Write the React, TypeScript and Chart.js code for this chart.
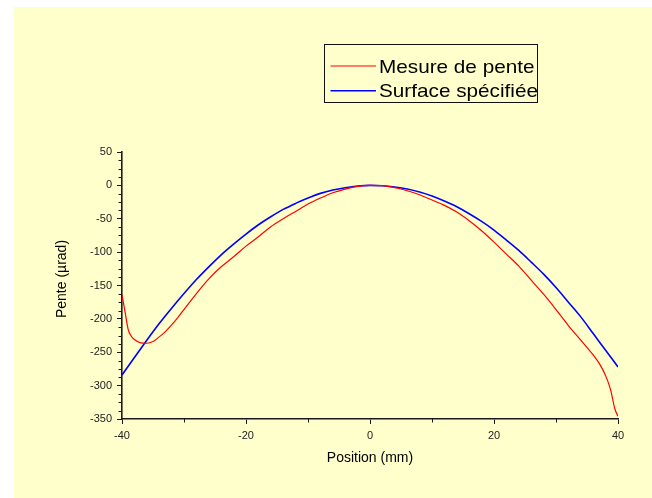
import { useEffect, useRef } from "react";
import { Chart, registerables } from "chart.js";

Chart.register(...registerables);

// Measured slope profile (position in mm, slope in µrad)
const positionsMesure = [
  -40, -39.5, -39, -38.5, -38, -37, -36, -35, -34, -33, -32, -31, -30, -28, -26, -24, -22, -20, -18, -16,
  -14, -12, -10, -8, -6, -4, -2, 0, 2, 4, 6, 8, 10, 12, 14, 16, 18, 20, 22, 24, 26, 28, 30, 32, 34, 36, 37,
  38, 38.8, 39.5, 40,
];
const penteMesure = [
  -164, -190, -216, -226, -231, -236, -236.5, -234, -227, -219, -209, -198, -186, -162, -140, -122, -107, -91,
  -77, -62, -50, -39, -28, -19, -11, -5.5, -1.5, 0, -0.5, -3.5, -8, -14, -22, -30, -40, -53, -68, -85, -103,
  -121, -142, -163, -186, -210, -232, -254, -267, -285, -306, -335, -346,
];

// Specified surface slope
const positionsSurface = [
  -40, -38, -36, -34, -32, -30, -28, -26, -24, -22, -20, -18, -16, -14, -12, -10, -8, -6, -4, -2, 0, 2, 4, 6,
  8, 10, 12, 14, 16, 18, 20, 22, 24, 26, 28, 30, 32, 34, 36, 38, 40,
];
const penteSurface = [
  -284, -258, -232, -207, -184, -162, -141, -122, -104, -88, -73, -59, -47, -36, -27, -19, -12, -7, -3.5, -1,
  0, -0.5, -2.5, -5.5, -10, -16, -23.5, -32, -42.5, -54, -67, -82, -97.5, -115, -133, -153, -175, -197, -222,
  -247, -272,
];

const seriesLabels = ["Mesure de pente", "Surface spécifiée"];
const xMajorTicks = [-40, -20, 0, 20, 40];
const yMajorTicks = [50, 0, -50, -100, -150, -200, -250, -300, -350];
const xTitle = "Position (mm)";
const yTitle = "Pente (µrad)";

const FONT = '"Liberation Sans", Arial, Helvetica, sans-serif';
const AXIS = "#1a1a1a";
const BG = "#FFFFCC";

// minor ticks: one between x majors, three between y majors
const xMinorTicks: number[] = [];
for (let i = 0; i < xMajorTicks.length - 1; i++) xMinorTicks.push((xMajorTicks[i] + xMajorTicks[i + 1]) / 2);
const yMinorTicks: number[] = [];
for (let i = 0; i < yMajorTicks.length - 1; i++) {
  const a = yMajorTicks[i];
  const b = yMajorTicks[i + 1];
  for (let k = 1; k < 4; k++) yMinorTicks.push(a + ((b - a) * k) / 4);
}

const decorations = {
  id: "decorations",
  afterDraw(chart: any) {
    const { ctx, chartArea: area, scales } = chart;
    const xs = scales.x;
    const ys = scales.y;
    ctx.save();

    // minor ticks
    ctx.strokeStyle = AXIS;
    ctx.lineWidth = 1;
    ctx.beginPath();
    for (const v of xMinorTicks) {
      const px = Math.round(xs.getPixelForValue(v)) + 0.5;
      ctx.moveTo(px, area.bottom);
      ctx.lineTo(px, area.bottom + 3.5);
    }
    for (const v of yMinorTicks) {
      const py = Math.round(ys.getPixelForValue(v)) + 0.5;
      ctx.moveTo(area.left, py);
      ctx.lineTo(area.left - 3.5, py);
    }
    ctx.stroke();

    // axis titles
    ctx.fillStyle = "#000";
    ctx.font = `14px ${FONT}`;
    ctx.textAlign = "center";
    ctx.textBaseline = "middle";
    ctx.fillText(xTitle, (area.left + area.right) / 2, area.bottom + 39);
    ctx.save();
    ctx.translate(area.left - 60, area.top + 127);
    ctx.rotate(-Math.PI / 2);
    ctx.fillText(yTitle, 0, 0);
    ctx.restore();

    // legend box
    const boxX = 310.5;
    const boxY = 37.5;
    const boxW = 213;
    const boxH = 58;
    ctx.strokeStyle = "#111";
    ctx.lineWidth = 1;
    ctx.strokeRect(boxX, boxY, boxW, boxH);
    ctx.font = `18.5px ${FONT}`;
    ctx.textAlign = "left";
    ctx.textBaseline = "alphabetic";
    chart.data.datasets.forEach((ds: any, i: number) => {
      const cy = 59 + i * 24.7;
      ctx.strokeStyle = ds.borderColor;
      ctx.lineWidth = ds.borderWidth;
      ctx.beginPath();
      ctx.moveTo(316.5, cy);
      ctx.lineTo(362, cy);
      ctx.stroke();
      ctx.fillStyle = "#000";
      ctx.save();
      ctx.translate(365, cy + 6.5);
      ctx.scale(1.12, 1);
      ctx.fillText(ds.label, 0, 0);
      ctx.restore();
    });

    ctx.restore();
  },
};

export default function App() {
  const canvasRef = useRef<HTMLCanvasElement | null>(null);

  useEffect(() => {
    const canvas = canvasRef.current;
    if (!canvas) return;
    const chart = new Chart(canvas, {
      type: "line",
      data: {
        datasets: [
          {
            label: seriesLabels[0],
            data: positionsMesure.map((x, i) => ({ x, y: penteMesure[i] })),
            borderColor: "#FF0000",
            borderWidth: 1.2,
            pointRadius: 0,
            cubicInterpolationMode: "monotone",
            fill: false,
          },
          {
            label: seriesLabels[1],
            data: positionsSurface.map((x, i) => ({ x, y: penteSurface[i] })),
            borderColor: "#0000FF",
            borderWidth: 1.6,
            pointRadius: 0,
            cubicInterpolationMode: "monotone",
            fill: false,
          },
        ],
      },
      options: {
        responsive: false,
        devicePixelRatio: 1,
        animation: false,
        events: [],
        layout: { padding: { left: 10, top: 145, right: 34, bottom: 20 } },
        plugins: {
          legend: { display: false },
          tooltip: { enabled: false },
        },
        scales: {
          x: {
            type: "linear",
            min: -40,
            max: 40,
            afterBuildTicks: (scale: any) => {
              scale.ticks = xMajorTicks.map((value) => ({ value }));
            },
            afterFit: (scale: any) => {
              scale.height = 59;
            },
            ticks: {
              font: { family: FONT, size: 11 },
              color: "#222",
              padding: 5,
              maxRotation: 0,
            },
            grid: {
              drawOnChartArea: false,
              drawTicks: true,
              tickLength: 5,
              color: AXIS,
              lineWidth: 1,
            },
            border: { display: true, color: AXIS, width: 1.6 },
          },
          y: {
            type: "linear",
            min: -350,
            max: 50,
            afterBuildTicks: (scale: any) => {
              scale.ticks = yMajorTicks.map((value) => ({ value }));
            },
            afterFit: (scale: any) => {
              scale.width = 98;
            },
            ticks: {
              font: { family: FONT, size: 11 },
              color: "#222",
              padding: 5,
            },
            grid: {
              drawOnChartArea: false,
              drawTicks: true,
              tickLength: 5,
              color: AXIS,
              lineWidth: 1,
            },
            border: { display: true, color: AXIS, width: 1.6 },
          },
        },
      },
      plugins: [decorations],
    });
    return () => chart.destroy();
  }, []);

  return (
    <div
      style={{
        position: "fixed",
        left: 14,
        top: 7,
        width: 638,
        height: 491,
        background: BG,
      }}
    >
      <canvas ref={canvasRef} width={638} height={491} style={{ display: "block" }} />
    </div>
  );
}
